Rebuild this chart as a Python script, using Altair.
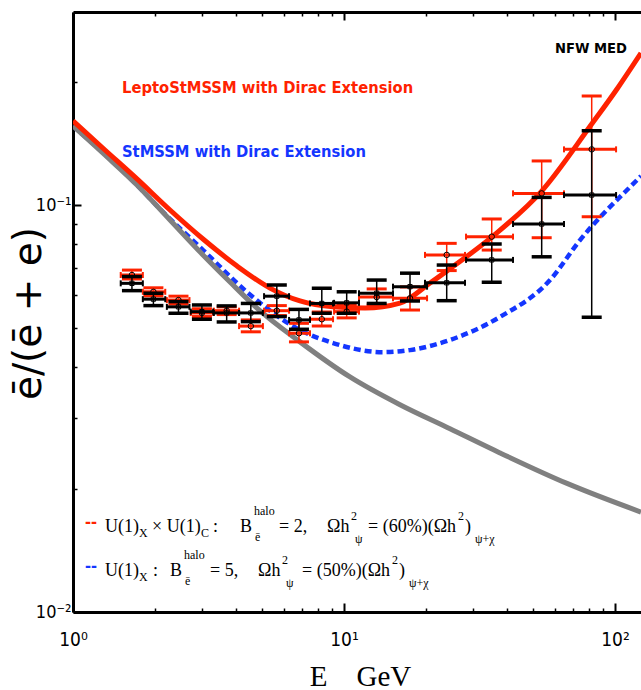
import altair as alt
import pandas as pd

# ---------------- data ----------------
# positron fraction points (energy bins)
energy = [1.65, 1.98, 2.45, 2.99, 3.69, 4.53, 5.65, 6.82, 8.28, 10.23, 13.20, 17.52, 23.93, 35.08, 53.63, 82.03]
e_low = [1.50, 1.81, 2.22, 2.72, 3.31, 4.10, 5.07, 6.27, 7.49, 9.19, 11.36, 15.16, 19.90, 28.20, 42.04, 64.83]
e_high = [1.81, 2.19, 2.69, 3.29, 4.10, 5.02, 6.27, 7.49, 9.11, 11.36, 15.16, 20.25, 27.96, 42.04, 64.83, 100.9]

red_frac = [0.0673, 0.0612, 0.0584, 0.0543, 0.0550, 0.0504, 0.0550, 0.0484, 0.0524, 0.0547, 0.0594, 0.0590, 0.0754, 0.0836, 0.1068, 0.1370]
red_lo = [0.0658, 0.0598, 0.0571, 0.0532, 0.0538, 0.0488, 0.0535, 0.0461, 0.0504, 0.0528, 0.0568, 0.0552, 0.0690, 0.0775, 0.0831, 0.0936]
red_hi = [0.0692, 0.0626, 0.0597, 0.0556, 0.0562, 0.0522, 0.0566, 0.0512, 0.0546, 0.0568, 0.0622, 0.0629, 0.0805, 0.0924, 0.1283, 0.1853]

black_frac = [0.0642, 0.0587, 0.0562, 0.0547, 0.0543, 0.0543, 0.0597, 0.0522, 0.0573, 0.0575, 0.0607, 0.0630, 0.0644, 0.0733, 0.0898, 0.1058]
black_lo = [0.0616, 0.0566, 0.0542, 0.0524, 0.0516, 0.0517, 0.0532, 0.0495, 0.0542, 0.0542, 0.0573, 0.0581, 0.0582, 0.0646, 0.0746, 0.0530]
black_hi = [0.0667, 0.0607, 0.0579, 0.0568, 0.0565, 0.0573, 0.0636, 0.0554, 0.0624, 0.0612, 0.0654, 0.0680, 0.0712, 0.0802, 0.1044, 0.1522]

# model curves
gray_E = [1.0, 1.312, 1.722, 2.280, 3.018, 3.796, 4.775, 6.88, 10.52, 16.09, 24.61, 37.63, 66.5, 124.7]
gray_f = [0.1564, 0.1327, 0.1120, 0.0919, 0.0754, 0.0647, 0.0558, 0.0461, 0.0378, 0.0323, 0.0282, 0.0246, 0.0207, 0.0176]

red_E = [1.0, 1.312, 1.722, 2.280, 3.018, 4.030, 5.333, 6.88, 9.108, 11.96, 16.09, 20.77, 23.93,
         35.08, 53.63, 82.03, 101.7, 124.7]
red_f = [0.1609, 0.1365, 0.1159, 0.0972, 0.0825, 0.0708, 0.0625, 0.0581, 0.0562, 0.0558, 0.0574, 0.0643, 0.0688,
         0.0834, 0.1082, 0.1581, 0.1928, 0.2363]

blue_E = [1.0, 1.722, 2.148, 3.018, 4.386, 6.88, 9.108, 13.93, 17.52, 24.61, 37.63, 57.56, 74.3, 120.6, 124.7]
blue_f = [0.1564, 0.1120, 0.0961, 0.0775, 0.0611, 0.0493, 0.0458, 0.0435, 0.0440, 0.0466, 0.0531, 0.0654, 0.0820, 0.1152, 0.1178]

x_major = [1, 10, 100]
x_minor = [2, 3, 4, 5, 6, 7, 8, 9, 20, 30, 40, 50, 60, 70, 80, 90]
y_major = [0.01, 0.1]
y_minor = [0.02, 0.03, 0.04, 0.05, 0.06, 0.07, 0.08, 0.09, 0.2]

title_red = "LeptoStMSSM with Dirac Extension"
title_blue = "StMSSM with Dirac Extension"
title_tag = "NFW MED"

# ---------------- styling ----------------
RED = "#ff2200"
BLUE = "#1436ff"
GRAY = "#808080"
SANS_N = "Liberation Sans Narrow, DejaVu Sans Condensed, Liberation Sans"
SERIF = "Liberation Serif"
NB = "\u00a0"

W, H = 568, 600
xs = alt.Scale(type="log", domain=[1, 124.7], nice=False)
ys = alt.Scale(type="log", domain=[0.01, 0.298], nice=False)

pts = pd.DataFrame({"E": energy, "lo": e_low, "hi": e_high,
                    "rf": red_frac, "rlo": red_lo, "rhi": red_hi,
                    "bf": black_frac, "blo": black_lo, "bhi": black_hi})
gray_df = pd.DataFrame({"E": gray_E, "f": gray_f})
red_df = pd.DataFrame({"E": red_E, "f": red_f})
blue_df = pd.DataFrame({"E": blue_E, "f": blue_f})
frame = pd.DataFrame({"E": [1.0], "f": [0.01]})


def X(field, axis=None):
    return alt.X(field, type="quantitative", scale=xs, axis=axis)


def Y(field, axis=None):
    return alt.Y(field, type="quantitative", scale=ys, axis=axis)


def axis_layer(xaxis=None, yaxis=None):
    return alt.Chart(frame).mark_point(opacity=0).encode(x=X("E", xaxis), y=Y("f", yaxis))


layers = []

# ---- axes ----
layers.append(axis_layer(xaxis=alt.Axis(
    orient="bottom", values=x_major, ticks=False, tickSize=0, domain=True, domainWidth=3,
    labelExpr="datum.value < 5 ? '10⁰' : datum.value < 50 ? '10¹' : '10²'",
    labelFont=SANS_N, labelFontSize=19, labelBaseline="alphabetic", labelPadding=33,
    labelFlush=False, labelOverlap=False,
    title="E" + NB * 4 + "GeV", titleFont=SERIF, titleFontSize=29, titleFontWeight="normal",
    titleX=287, titleY=73, titleAlign="center", titleBaseline="alphabetic")))
layers.append(axis_layer(xaxis=alt.Axis(orient="bottom", values=x_major, offset=-9, tickSize=9,
                                        tickWidth=2, labels=False, domain=False, title=None)))
layers.append(axis_layer(xaxis=alt.Axis(orient="bottom", values=x_minor, offset=-4, tickSize=4,
                                        tickWidth=1.5, labels=False, domain=False, title=None)))
layers.append(axis_layer(xaxis=alt.Axis(orient="top", values=x_major, ticks=False, tickSize=0,
                                        labels=False, domain=True, domainWidth=3, title=None)))
layers.append(axis_layer(xaxis=alt.Axis(orient="top", values=x_major, offset=-8, tickSize=8,
                                        tickWidth=2, labels=False, domain=False, title=None)))
layers.append(axis_layer(xaxis=alt.Axis(orient="top", values=x_minor, offset=-4, tickSize=4,
                                        tickWidth=1.5, labels=False, domain=False, title=None)))
layers.append(axis_layer(yaxis=alt.Axis(
    orient="left", values=y_major, ticks=False, tickSize=0, domain=True, domainWidth=3,
    labelExpr="datum.value < 0.05 ? '10⁻²' : '10⁻¹'",
    labelFont=SANS_N, labelFontSize=18, labelPadding=2, labelOverlap=False, labelFlush=False,
    title="ē/(ē + e)", titleFont="DejaVu Sans", titleFontSize=39, titleFontWeight="normal",
    titleX=-45, titleY=301, titleAngle=270, titleAlign="center", titleBaseline="middle")))
layers.append(axis_layer(yaxis=alt.Axis(orient="left", values=y_major, offset=-8, tickSize=8,
                                        tickWidth=2, labels=False, domain=False, title=None)))
layers.append(axis_layer(yaxis=alt.Axis(orient="left", values=y_minor, offset=-4, tickSize=4,
                                        tickWidth=1.5, labels=False, domain=False, title=None)))

# ---- model curves ----
layers.append(alt.Chart(blue_df).mark_line(color=BLUE, strokeWidth=4.5, strokeDash=[7, 4],
                                           interpolate="monotone", clip=True)
              .encode(x=X("E"), y=Y("f")))
layers.append(alt.Chart(gray_df).mark_line(color=GRAY, strokeWidth=5, interpolate="monotone", clip=True)
              .encode(x=X("E"), y=Y("f")))
layers.append(alt.Chart(red_df).mark_line(color=RED, strokeWidth=5, interpolate="monotone", clip=True)
              .encode(x=X("E"), y=Y("f")))


def error_layers(fcol, locol, hicol, color, vwidth, capthick, marker_shape, marker_size):
    base = alt.Chart(pts)
    out = [
        base.mark_rule(color=color, strokeWidth=3).encode(x=X("lo"), x2="hi", y=Y(fcol)),
        base.mark_rule(color=color, strokeWidth=vwidth).encode(x=X("E"), y=Y(locol), y2=hicol),
        base.mark_tick(color=color, orient="horizontal", size=20, thickness=capthick, opacity=1)
            .encode(x=X("E"), y=Y(locol)),
        base.mark_tick(color=color, orient="horizontal", size=20, thickness=capthick, opacity=1)
            .encode(x=X("E"), y=Y(hicol)),
        base.mark_tick(color=color, orient="vertical", size=6, thickness=2, opacity=1)
            .encode(x=X("lo"), y=Y(fcol)),
        base.mark_tick(color=color, orient="vertical", size=6, thickness=2, opacity=1)
            .encode(x=X("hi"), y=Y(fcol)),
        base.mark_point(shape=marker_shape, filled=False, size=marker_size, color="black",
                        strokeWidth=1, opacity=1).encode(x=X("E"), y=Y(fcol)),
    ]
    return out


layers += error_layers("rf", "rlo", "rhi", RED, 1.5, 3, "circle", 30)
layers += error_layers("bf", "blo", "bhi", "black", 1.5, 3.5, "square", 18)

# ---- text annotations (plot-relative pixel layout) ----
ann = pd.DataFrame({
    "t": [title_red, title_blue, title_tag],
    "x": [49, 49, 482], "y": [81, 145, 41], "s": [16.4, 16.4, 14.6],
    "c": [RED, BLUE, "black"]})
layers.append(alt.Chart(ann).mark_text(align="left", baseline="alphabetic", font=SANS_N,
                                       fontWeight="bold")
              .encode(x=alt.X("x:Q", scale=None, axis=None), y=alt.Y("y:Q", scale=None, axis=None),
                      text="t:N", size=alt.Size("s:Q", scale=None, legend=None),
                      color=alt.Color("c:N", scale=None, legend=None)))

dash = pd.DataFrame({"t": ["--", "--"], "x": [12, 12], "y": [516, 560], "c": [RED, BLUE]})
layers.append(alt.Chart(dash).mark_text(align="left", baseline="alphabetic", font="Liberation Sans",
                                        fontWeight="bold", fontSize=18)
              .encode(x=alt.X("x:Q", scale=None, axis=None), y=alt.Y("y:Q", scale=None, axis=None),
                      text="t:N", color=alt.Color("c:N", scale=None, legend=None)))

leg_text = ["U(1)", "X", "× U(1)", "C", ":", "B", "halo", "ē", "= 2,", "Ωh", "2", "ψ",
            "= (60%)(Ωh", "2", ")", "ψ+χ",
            "U(1)", "X", ":", "B", "halo", "ē", "= 5,", "Ωh", "2", "ψ",
            "= (50%)(Ωh", "2", ")", "ψ+χ"]
leg_x = [32, 66, 79, 128, 140, 167, 181, 182, 206, 254, 278, 282, 295, 385, 392, 402,
         32, 66, 80, 97, 111, 112, 137, 185, 209, 213, 229, 319, 326, 336]
leg_y = [520, 525, 520, 525, 520, 520, 503, 529, 520, 520, 508, 531, 520, 508, 520, 531,
         564, 569, 564, 564, 547, 573, 564, 564, 552, 575, 564, 552, 564, 575]
leg_s = [18, 12, 18, 12, 18, 18, 12, 12, 18, 18, 12, 12, 18, 12, 18, 12,
         18, 12, 18, 18, 12, 12, 18, 18, 12, 12, 18, 12, 18, 12]
leg = pd.DataFrame({"t": leg_text, "x": leg_x, "y": leg_y, "s": leg_s})
layers.append(alt.Chart(leg).mark_text(align="left", baseline="alphabetic", font=SERIF, color="black")
              .encode(x=alt.X("x:Q", scale=None, axis=None), y=alt.Y("y:Q", scale=None, axis=None),
                      text="t:N", size=alt.Size("s:Q", scale=None, legend=None)))

chart = (alt.layer(*layers)
         .resolve_axis(x="independent", y="independent")
         .properties(width=W, height=H,
                     padding={"left": 73, "top": 12, "right": 0, "bottom": 78},
                     autosize=alt.AutoSizeParams(type="none"))
         .configure_view(stroke=None)
         .configure_axis(grid=False, domainColor="black", tickColor="black",
                         labelColor="black", titleColor="black"))

chart.save("out.html", embed_options={"renderer": "svg", "actions": False})
